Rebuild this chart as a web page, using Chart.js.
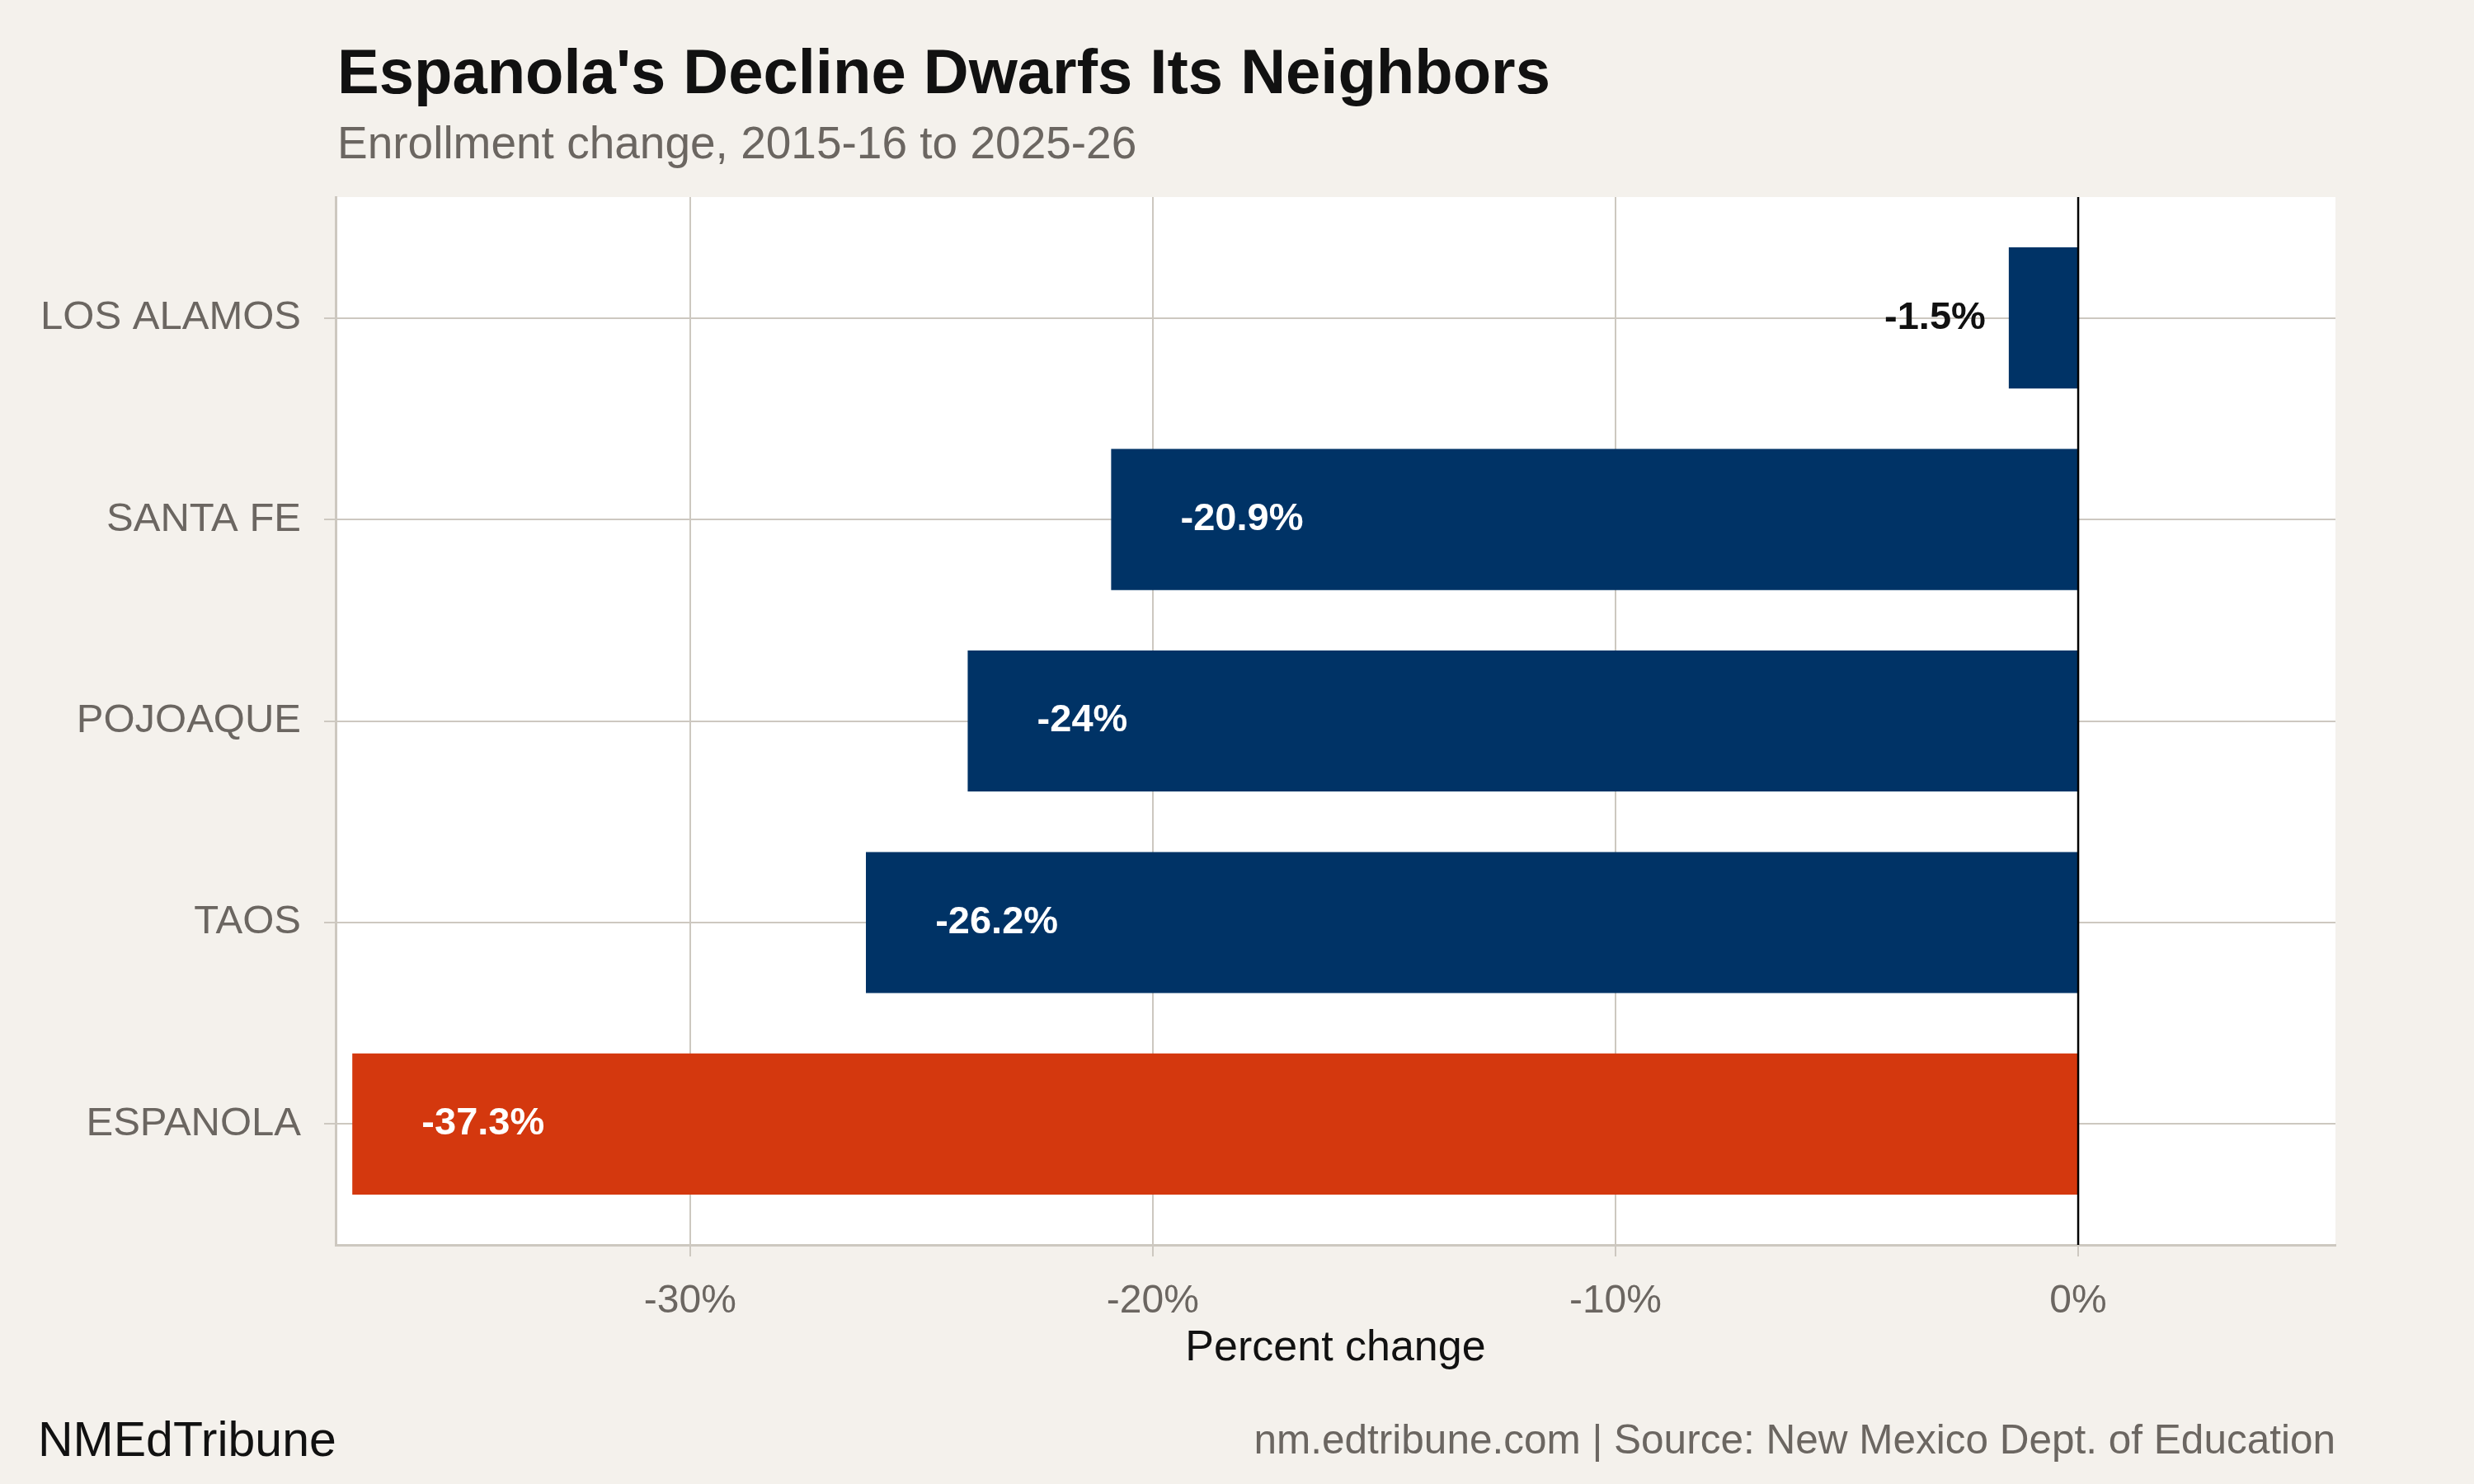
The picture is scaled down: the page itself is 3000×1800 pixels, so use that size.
<!DOCTYPE html>
<html>
<head>
<meta charset="utf-8">
<script src="https://cdn.jsdelivr.net/npm/chart.js@4.4.1/dist/chart.umd.min.js"></script>
<style>
  html, body { margin: 0; padding: 0; background: #f4f1ec; }
  #wrap { width: 3000px; height: 1800px; }
</style>
</head>
<body>
<div id="wrap"><canvas id="chart" width="3000" height="1800"></canvas></div>
<script>
// Data (top to bottom)
const districts = ['LOS ALAMOS', 'SANTA FE', 'POJOAQUE', 'TAOS', 'ESPANOLA'];
const pctChange = [-1.5, -20.9, -24, -26.2, -37.3];
const highlight = 'ESPANOLA';
const xTicks = [-30, -20, -10, 0];

// Palette
const navy = '#003366';
const rust = '#d4380e';
const bg = '#f4f1ec';
const gridGray = '#cdc8c0';
const textGray = '#6b6661';
const font = '"Liberation Sans", Arial, Helvetica, sans-serif';

const barColors = districts.map(d => d === highlight ? rust : navy);

// Background, white panel, titles and footer
const frame = {
    id: 'frame',
    beforeDraw(chart) {
        const { ctx, chartArea: a } = chart;
        ctx.save();
        ctx.fillStyle = bg;
        ctx.fillRect(0, 0, chart.width, chart.height);
        ctx.fillStyle = '#ffffff';
        ctx.fillRect(a.left, a.top, a.right - a.left, a.bottom - a.top);
        ctx.restore();
    },
    afterDraw(chart) {
        const { ctx, chartArea: a } = chart;
        ctx.save();
        ctx.textBaseline = 'alphabetic';
        ctx.textAlign = 'left';
        ctx.fillStyle = '#111111';
        ctx.font = 'bold 76px ' + font;
        ctx.fillText("Espanola's Decline Dwarfs Its Neighbors", a.left + 2, 113);
        ctx.fillStyle = textGray;
        ctx.font = '55px ' + font;
        ctx.fillText('Enrollment change, 2015-16 to 2025-26', a.left + 2, 192);
        // footer
        ctx.fillStyle = '#111111';
        ctx.font = '59px ' + font;
        ctx.fillText('NMEdTribune', 46, 1766);
        ctx.fillStyle = textGray;
        ctx.font = '49.5px ' + font;
        ctx.textAlign = 'right';
        ctx.fillText('nm.edtribune.com | Source: New Mexico Dept. of Education', a.right, 1763);
        ctx.restore();
    }
};

// Zero reference line and value labels
const labels = {
    id: 'labels',
    afterDatasetsDraw(chart) {
        const { ctx, chartArea: a } = chart;
        const xs = chart.scales.x;
        const x0 = xs.getPixelForValue(0);
        ctx.save();
        ctx.strokeStyle = '#000000';
        ctx.lineWidth = 2.5;
        ctx.beginPath();
        ctx.moveTo(x0, a.top);
        ctx.lineTo(x0, a.bottom);
        ctx.stroke();

        ctx.font = 'bold 47px ' + font;
        ctx.textBaseline = 'middle';
        chart.getDatasetMeta(0).data.forEach((bar, i) => {
            const v = pctChange[i];
            const txt = v + '%';
            if (v > -5) {
                ctx.fillStyle = '#111111';
                ctx.textAlign = 'right';
                ctx.fillText(txt, xs.getPixelForValue(v - 0.5), bar.y);
            } else {
                ctx.fillStyle = '#ffffff';
                ctx.textAlign = 'left';
                ctx.fillText(txt, xs.getPixelForValue(v + 1.5), bar.y);
            }
        });
        ctx.restore();
    }
};

new Chart(document.getElementById('chart'), {
    type: 'bar',
    data: {
        datasets: [{
            data: pctChange.map((v, i) => ({ x: v, y: i })),
            backgroundColor: barColors,
            borderWidth: 0,
            barPercentage: 0.7,
            categoryPercentage: 1.0,
        }],
    },
    options: {
        indexAxis: 'y',
        responsive: false,
        devicePixelRatio: 1,
        animation: false,
        layout: { padding: { top: 239, right: 168, bottom: 0, left: 0 } },
        plugins: {
            legend: { display: false },
            tooltip: { enabled: false },
        },
        scales: {
            x: {
                type: 'linear',
                min: -37.66,
                max: 5.56,
                afterBuildTicks: s => { s.ticks = xTicks.map(v => ({ value: v })); },
                afterFit: s => { s.height = 290; },
                grid: { color: gridGray, lineWidth: 2, tickLength: 14 },
                border: { display: true, color: gridGray, width: 3 },
                ticks: {
                    callback: v => v + '%',
                    color: textGray,
                    font: { family: font, size: 48 },
                    padding: 26,
                    maxRotation: 0,
                },
                title: {
                    display: true,
                    text: 'Percent change',
                    color: '#111111',
                    font: { family: font, size: 52 },
                    padding: { top: 0, bottom: 133 },
                },
            },
            y: {
                type: 'linear',
                min: -0.6,
                max: 4.6,
                reverse: true,
                offset: false,
                afterBuildTicks: s => { s.ticks = districts.map((d, i) => ({ value: i })); },
                afterFit: s => { s.width = 407; },
                grid: { color: gridGray, lineWidth: 2, tickLength: 14, offset: false },
                border: { display: true, color: gridGray, width: 3 },
                ticks: {
                    callback: v => districts[v],
                    color: textGray,
                    font: { family: font, size: 49 },
                    padding: 28,
                },
            },
        },
    },
    plugins: [frame, labels],
});
</script>
</body>
</html>
